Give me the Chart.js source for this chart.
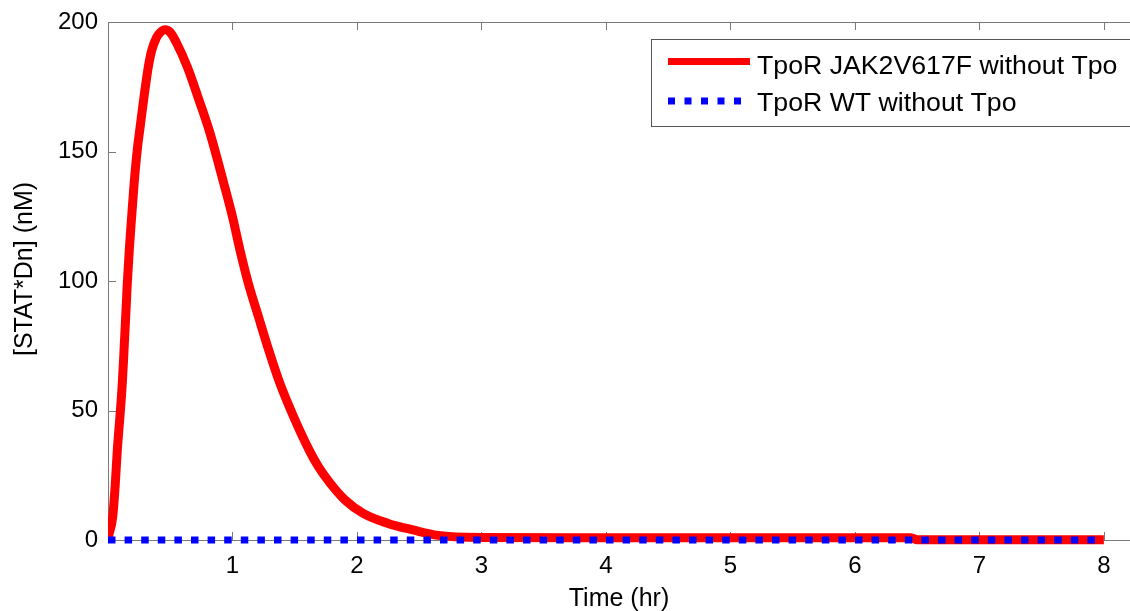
<!DOCTYPE html>
<html>
<head>
<meta charset="utf-8">
<script src="https://cdn.jsdelivr.net/npm/chart.js@4"></script>
<style>
  html, body { margin: 0; padding: 0; background: #ffffff; }
</style>
</head>
<body>
<canvas id="chart" width="1130" height="611"></canvas>
<script>
// values
const mutant_time = [0, 0.005, 0.038, 0.059, 0.075, 0.096, 0.115, 0.129, 0.142, 0.155, 0.171, 0.19, 0.21, 0.235, 0.257, 0.289, 0.324, 0.351, 0.39, 0.42, 0.458, 0.5, 0.55, 0.637, 0.73, 0.82, 0.93, 1.0, 1.06, 1.128, 1.21, 1.29, 1.38, 1.49, 1.616, 1.69, 1.785, 1.905, 2.05, 2.25, 2.45, 2.65, 3.0, 4.0, 5.0, 6.0, 6.45, 6.5, 7.0, 8.0];
const mutant_values = [0, 1.5, 9, 22, 34.8, 47.7, 60.6, 73.5, 86, 99, 112, 124.8, 137.7, 150.6, 159, 171, 182.7, 189, 194, 196, 197, 196, 192, 182.7, 170, 157, 137.7, 124.8, 112, 99, 86, 73.5, 60.6, 47.7, 34.7, 28.3, 21.9, 15.4, 10.3, 6.4, 3.9, 1.8, 1.0, 0.9, 0.9, 0.9, 0.9, 0.1, 0.1, 0.1];
const wt_time = [0, 8];
const wt_values = [0, 0];

const series_labels = ["TpoR JAK2V617F without Tpo", "TpoR WT without Tpo"];
const x_ticks = [1, 2, 3, 4, 5, 6, 7, 8];
const y_ticks = [0, 50, 100, 150, 200];
const x_title = "Time (hr)";
const y_title = "[STAT*Dn] (nM)";

const font_family = "'Liberation Sans', Arial, sans-serif";
const axis_color = '#7a7a7a';

function toPoints(xs, ys) {
    return xs.map((x, i) => ({x: x, y: ys[i]}));
}

// inward MATLAB style ticks, the top frame line and the y title
const matlabFrame = {
    id: 'matlabFrame',
    beforeDatasetsDraw(chart) {
        const ctx = chart.ctx;
        const area = chart.chartArea;
        const xs = chart.scales.x;
        const ys = chart.scales.y;
        const len = 8;

        ctx.save();
        ctx.strokeStyle = axis_color;
        ctx.lineWidth = 1;
        ctx.beginPath();
        ctx.moveTo(area.left, Math.round(area.top) + 0.5);
        ctx.lineTo(area.right, Math.round(area.top) + 0.5);

        x_ticks.forEach(v => {
            const px = Math.round(xs.getPixelForValue(v)) + 0.5;
            ctx.moveTo(px, area.bottom);
            ctx.lineTo(px, area.bottom - len);
            ctx.moveTo(px, area.top);
            ctx.lineTo(px, area.top + len);
        });
        y_ticks.forEach(v => {
            const py = Math.round(ys.getPixelForValue(v)) + 0.5;
            ctx.moveTo(area.left, py);
            ctx.lineTo(area.left + len, py);
        });
        ctx.stroke();

        // y axis title, sitting a little above the middle like the original
        ctx.translate(25, 269);
        ctx.rotate(-Math.PI / 2);
        ctx.font = '25px ' + font_family;
        ctx.fillStyle = '#000000';
        ctx.textAlign = 'center';
        ctx.textBaseline = 'middle';
        ctx.fillText(y_title, 0, 0);
        ctx.restore();
    }
};

// boxed legend inside the plot, top right
const boxedLegend = {
    id: 'boxedLegend',
    afterDraw(chart) {
        const ctx = chart.ctx;
        const sets = chart.data.datasets;
        const box_x = 651, box_y = 39, box_w = 500, box_h = 87;

        ctx.save();
        ctx.fillStyle = '#ffffff';
        ctx.fillRect(box_x, box_y, box_w, box_h);
        ctx.strokeStyle = '#555555';
        ctx.lineWidth = 1;
        ctx.strokeRect(box_x + 0.5, box_y + 0.5, box_w, box_h);

        ctx.font = '26.7px ' + font_family;
        ctx.textBaseline = 'alphabetic';
        ctx.fillStyle = '#000000';

        sets.forEach((ds, i) => {
            const row_y = i == 0 ? 61.5 : 101;
            const text_base = i == 0 ? 73.7 : 110.7;
            ctx.strokeStyle = ds.borderColor;
            ctx.lineWidth = 7;
            ctx.lineCap = 'butt';
            ctx.setLineDash(i == 0 ? [] : [7, 9.5]);
            ctx.beginPath();
            ctx.moveTo(668, row_y);
            ctx.lineTo(i == 0 ? 750 : 742, row_y);
            ctx.stroke();
            ctx.setLineDash([]);
            ctx.fillText(ds.label, 757, text_base);
        });
        ctx.restore();
    }
};

new Chart(document.getElementById('chart'), {
    type: 'line',
    data: {
        datasets: [
            {
                label: series_labels[0],
                data: toPoints(mutant_time, mutant_values),
                borderColor: '#ff0000',
                backgroundColor: '#ff0000',
                borderWidth: 9,
                borderJoinStyle: 'round',
                borderCapStyle: 'butt',
                pointRadius: 0,
                cubicInterpolationMode: 'monotone',
                fill: false,
                clip: {left: 0, top: 6, right: 0, bottom: 6},
                order: 2
            },
            {
                label: series_labels[1],
                data: toPoints(wt_time, wt_values),
                borderColor: '#0000ff',
                backgroundColor: '#0000ff',
                borderWidth: 7,
                borderDash: [7.5, 9.1],
                borderCapStyle: 'butt',
                pointRadius: 0,
                fill: false,
                clip: {left: 0, top: 6, right: 0, bottom: 6},
                order: 1
            }
        ]
    },
    options: {
        responsive: false,
        animation: false,
        layout: { padding: { top: 22, right: 0, bottom: 0, left: 0 } },
        plugins: {
            legend: { display: false },
            tooltip: { enabled: false }
        },
        scales: {
            x: {
                type: 'linear',
                min: 0,
                max: 8.21,
                afterBuildTicks: scale => { scale.ticks = x_ticks.map(v => ({value: v})); },
                afterFit: scale => { scale.height = 71; },
                grid: { display: false, drawTicks: false },
                border: { display: true, color: axis_color, width: 1 },
                ticks: {
                    autoSkip: false,
                    maxRotation: 0,
                    padding: 12,
                    color: '#000000',
                    font: { family: font_family, size: 24 }
                },
                title: {
                    display: true,
                    text: x_title,
                    color: '#000000',
                    padding: { top: 0, bottom: -3 },
                    font: { family: font_family, size: 25 }
                }
            },
            y: {
                min: 0,
                max: 200,
                afterBuildTicks: scale => { scale.ticks = y_ticks.map(v => ({value: v})); },
                afterFit: scale => {
                    scale.width = 108;
                    scale.paddingTop = 0;
                    scale.paddingBottom = 0;
                },
                grid: { display: false, drawTicks: false },
                border: { display: true, color: axis_color, width: 1 },
                ticks: {
                    padding: 10,
                    color: '#000000',
                    font: { family: font_family, size: 24 }
                },
                title: { display: false }
            }
        }
    },
    plugins: [matlabFrame, boxedLegend]
});
</script>
</body>
</html>
